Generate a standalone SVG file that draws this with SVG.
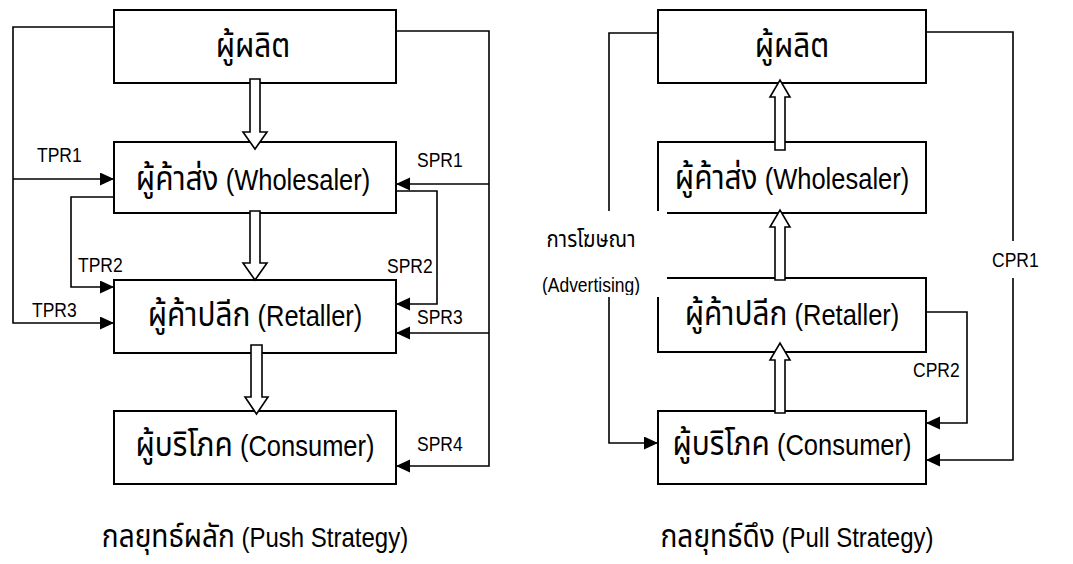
<svg xmlns="http://www.w3.org/2000/svg" width="1073" height="564" viewBox="0 0 1073 564">
  <defs>
    <style>
      .box { fill: #fff; stroke: #000; stroke-width: 2; }
      .wire { fill: none; stroke: #000; stroke-width: 1.6; }
      .wire-arrow { fill: none; stroke: #000; stroke-width: 1.6; marker-end: url(#head); }
      .block { fill: #fff; stroke: #000; stroke-width: 1.6; stroke-linejoin: miter; }
      .node-text { font-family: "Liberation Sans", "Noto Sans Thai", "Noto Sans", "DejaVu Sans", sans-serif; font-size: 25.5px; fill: #000; text-anchor: middle; }
      .label { font-family: "Liberation Sans", "Noto Sans Thai", "Noto Sans", "DejaVu Sans", sans-serif; font-size: 17.5px; fill: #000; }
      .caption { font-family: "Liberation Sans", "Noto Sans Thai", "Noto Sans", "DejaVu Sans", sans-serif; font-size: 24px; fill: #000; text-anchor: middle; }
      .th { font-size: 1.17em; }
      .mask { fill: #fff; stroke: none; }
    </style>
    <marker id="head" markerUnits="userSpaceOnUse" markerWidth="15" markerHeight="14" refX="14" refY="6.5" orient="auto">
      <path d="M0,0 L14,6.5 L0,13 z" fill="#000"/>
    </marker>
    <clipPath id="adClip">
      <rect x="530" y="211" width="137" height="84"/>
    </clipPath>
  </defs>

  <!-- Push strategy: nodes -->
  <g id="push-producer">
    <rect class="box" x="114" y="10" width="282" height="73"/>
    <text class="node-text" transform="translate(253,57) scale(1,1.15)"><tspan class="th">ผู้ผลิต</tspan></text>
  </g>
  <g id="push-wholesaler">
    <rect class="box" x="114" y="142" width="282" height="71"/>
    <text class="node-text" transform="translate(253,190) scale(1,1.15)"><tspan class="th">ผู้ค้าส่ง</tspan> (Wholesaler)</text>
  </g>
  <g id="push-retailer">
    <rect class="box" x="114" y="280" width="282" height="73"/>
    <text class="node-text" transform="translate(255,326) scale(1,1.15)"><tspan class="th">ผู้ค้าปลีก</tspan> (Retaller)</text>
  </g>
  <g id="push-consumer">
    <rect class="box" x="114" y="411" width="282" height="73"/>
    <text class="node-text" transform="translate(255,456) scale(1,1.15)"><tspan class="th">ผู้บริโภค</tspan> (Consumer)</text>
  </g>

  <!-- Pull strategy: nodes -->
  <g id="pull-producer">
    <rect class="box" x="658" y="10" width="268" height="73"/>
    <text class="node-text" transform="translate(792,57) scale(1,1.15)"><tspan class="th">ผู้ผลิต</tspan></text>
  </g>
  <g id="pull-wholesaler">
    <rect class="box" x="658" y="142" width="268" height="71"/>
    <text class="node-text" transform="translate(792,189) scale(1,1.15)"><tspan class="th">ผู้ค้าส่ง</tspan> (Wholesaler)</text>
  </g>
  <g id="pull-retailer">
    <rect class="box" x="658" y="278" width="268" height="74"/>
    <text class="node-text" transform="translate(792,325) scale(1,1.15)"><tspan class="th">ผู้ค้าปลีก</tspan> (Retaller)</text>
  </g>
  <g id="pull-consumer">
    <rect class="box" x="658" y="411" width="268" height="73"/>
    <text class="node-text" transform="translate(792,455) scale(1,1.15)"><tspan class="th">ผู้บริโภค</tspan> (Consumer)</text>
  </g>

  <!-- Connectors -->
  <g id="connectors">
    <!-- push: trade promotions on the left -->
    <path class="wire-arrow" d="M114,27 H13 V323 H114"/>
    <path class="wire-arrow" d="M13,179 H114"/>
    <path class="wire-arrow" d="M114,197 H71 V287 H114"/>
    <!-- push: sales promotions on the right -->
    <path class="wire-arrow" d="M396,31 H489 V466 H396"/>
    <path class="wire-arrow" d="M489,184 H396"/>
    <path class="wire-arrow" d="M396,191 H437 V304 H396"/>
    <path class="wire-arrow" d="M489,333 H396"/>

    <!-- push: hollow flow arrows downward -->
    <polygon class="block" points="250,79 260,79 260,132 267,132 255,149 243,132 250,132"/>
    <polygon class="block" points="250,211 260,211 260,263 267,263 255,280 243,263 250,263"/>
    <polygon class="block" points="251,345 262,345 262,397 268,397 256.5,414 245,397 251,397"/>

    <!-- pull: hollow flow arrows upward -->
    <polygon class="block" points="775,150 785,150 785,97 790,97 780,80 770,97 775,97"/>
    <polygon class="block" points="775,280 785,280 785,227 790,227 780,210 770,227 775,227"/>
    <polygon class="block" points="775,413 785,413 785,360 790,360 780,343 770,360 775,360"/>

    <!-- pull: advertising and consumer promotions -->
    <path class="wire-arrow" d="M658,33 H609 V443 H658"/>
    <path class="wire-arrow" d="M926,32 H1013 V460 H926"/>
    <path class="wire-arrow" d="M926,312 H967 V423 H926"/>

    <!-- connector labels -->
    <text class="label" transform="translate(37,162) scale(1,1.15)">TPR1</text>
    <text class="label" transform="translate(78,272) scale(1,1.15)">TPR2</text>
    <text class="label" transform="translate(32,317) scale(1,1.15)">TPR3</text>
    <text class="label" transform="translate(417,167) scale(1,1.15)">SPR1</text>
    <text class="label" transform="translate(387,273) scale(1,1.15)">SPR2</text>
    <text class="label" transform="translate(417,324) scale(1,1.15)">SPR3</text>
    <text class="label" transform="translate(417,451) scale(1,1.15)">SPR4</text>

    <rect class="mask" x="530" y="211" width="137" height="86"/>
    <g clip-path="url(#adClip)">
      <text class="label" text-anchor="middle" transform="translate(591,247) scale(1,1.15)"><tspan class="th">การโฆษณา</tspan></text>
      <text class="label" text-anchor="middle" transform="translate(591,292) scale(1,1.15)">(Advertising)</text>
    </g>

    <rect class="mask" x="992" y="241" width="50" height="37"/>
    <text class="label" transform="translate(992,267) scale(1,1.15)">CPR1</text>
    <text class="label" transform="translate(913,377) scale(1,1.15)">CPR2</text>
  </g>

  <!-- Strategy captions -->
  <text class="caption" transform="translate(255,547) scale(1,1.15)"><tspan class="th">กลยุทธ์ผลัก</tspan> (Push Strategy)</text>
  <text class="caption" transform="translate(797,547) scale(1,1.15)"><tspan class="th">กลยุทธ์ดึง</tspan> (Pull Strategy)</text>
</svg>
